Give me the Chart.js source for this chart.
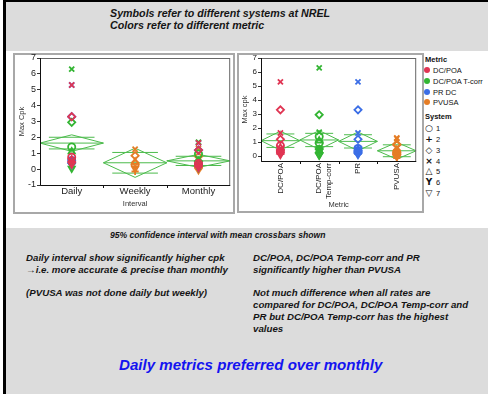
<!DOCTYPE html>
<html>
<head>
<meta charset="utf-8">
<script src="https://cdn.jsdelivr.net/npm/chart.js@4"></script>
<style>
  body { margin: 0; width: 488px; height: 394px; background: #fff; position: relative; overflow: hidden;
         font-family: 'Liberation Sans', Arial, sans-serif; color: #151515; }
  .abs { position: absolute; }
  .gray { background: #dcdcdc; }
  .note { position: absolute; font-weight: bold; font-style: italic; white-space: nowrap; }
  .panel { position: absolute; border: 2px solid #a8a8a8; background: #fff; box-sizing: border-box; }
  canvas { position: absolute; }
  .lg { position: absolute; font-size: 7.5px; line-height: 9px; white-space: nowrap; color: #111; }
  .dot { position: absolute; width: 6px; height: 6px; border-radius: 50%; }
  .sym { position: absolute; font-family: 'DejaVu Sans', sans-serif; font-weight: bold; font-size: 9px; line-height: 9px; width: 10px; text-align: center; color: #111; }
</style>
</head>
<body>
<div class="abs gray" style="left:6px;top:2px;width:482px;height:49px"></div>
<div class="abs gray" style="left:6px;top:228px;width:482px;height:166px"></div>
<div class="abs" style="left:3px;top:0;width:3px;height:394px;background:#000"></div>
<div class="abs" style="left:3px;top:0;width:485px;height:2px;background:#000"></div>

<div class="note" style="left:110px;top:8px;font-size:10.7px;line-height:11.5px">Symbols refer to different systems at NREL<br>Colors refer to different metric</div>

<div class="panel" style="left:13px;top:53px;width:222px;height:161px"></div>
<div class="panel" style="left:237px;top:53px;width:187px;height:160px"></div>
<canvas id="intervalChart" width="226" height="165" style="left:10px;top:50px"></canvas>
<canvas id="metricChart" width="186" height="165" style="left:236px;top:50px"></canvas>

<!-- legend -->
<div class="lg" style="left:425px;top:55px;font-weight:bold">Metric</div>
<div class="dot" style="left:424px;top:67px;background:#e03553"></div>
<div class="lg" style="left:433px;top:66px">DC/POA</div>
<div class="dot" style="left:424px;top:78px;background:#33b533"></div>
<div class="lg" style="left:433px;top:77px">DC/POA T-corr</div>
<div class="dot" style="left:424px;top:89px;background:#3b6ee6"></div>
<div class="lg" style="left:433px;top:88px">PR DC</div>
<div class="dot" style="left:424px;top:99px;background:#e57d25"></div>
<div class="lg" style="left:433px;top:98px">PVUSA</div>
<div class="lg" style="left:425px;top:112px;font-weight:bold">System</div>
<div class="sym" style="left:424px;top:124px">○</div><div class="lg" style="left:436px;top:124px">1</div>
<div class="sym" style="left:424px;top:135px">+</div><div class="lg" style="left:436px;top:135px">2</div>
<div class="sym" style="left:424px;top:146px">◇</div><div class="lg" style="left:436px;top:146px">3</div>
<div class="sym" style="left:424px;top:157px">×</div><div class="lg" style="left:436px;top:157px">4</div>
<div class="sym" style="left:424px;top:167px">△</div><div class="lg" style="left:436px;top:167px">5</div>
<div class="sym" style="left:424px;top:178px">Y</div><div class="lg" style="left:436px;top:178px">6</div>
<div class="sym" style="left:424px;top:189px">▽</div><div class="lg" style="left:436px;top:189px">7</div>

<div class="note" style="left:110px;top:230px;font-size:8.6px">95% confidence interval with mean crossbars shown</div>
<div class="note" style="left:26px;top:252px;font-size:9.7px;line-height:11.8px">Daily interval show significantly higher cpk<br>→i.e. more accurate &amp; precise than monthly<br><br>(PVUSA was not done daily but weekly)</div>
<div class="note" style="left:253px;top:252px;font-size:9.7px;line-height:11.8px">DC/POA, DC/POA Temp-corr and PR<br>significantly higher than PVUSA<br><br>Not much difference when all rates are<br>compared for DC/POA, DC/POA Temp-corr and<br>PR but DC/POA Temp-corr has the highest<br>values</div>
<div class="note" style="left:119px;top:356px;font-size:15.1px;color:#1414f0">Daily metrics preferred over monthly</div>

<script>
// categories and tick labels
const intervals = ['Daily', 'Weekly', 'Monthly'];
const metricLabels = ['DC/POA', ['DC/POA', 'Temp-corr'], 'PR', 'PVUSA'];
const yTicksInterval = [-1, 0, 1, 2, 3, 4, 5, 6, 7];
const yTicksMetric = [0, 1, 2, 3, 4, 5, 6, 7];

// Max Cpk for systems 1..7
const dcpoaDaily   = [0.75, 0.40, 3.30, 5.30, 0.60, 0.50, 0.30];
const dcpoaMonthly = [0.35, 0.15, 1.20, 1.65, 0.30, 0.25, 0.10];
const tcorrDaily   = [1.40, 0.35, 2.95, 6.30, 1.10, 0.45, 0.05];
const tcorrMonthly = [0.95, 0.20, 0.50, 1.70, 0.40, 0.30, 0.10];
const prDaily      = [0.55, 0.35, 3.30, 5.30, 0.50, 0.45, 0.25];
const prMonthly    = [0.30, 0.15, 1.20, 1.65, 0.35, 0.20, 0.10];
const pvusaWeekly  = [0.30, -0.15, 0.85, 1.25, 0.45, 0.20, 0.05];
const pvusaMonthly = [0.15, 0.00, 0.80, 1.30, 0.25, 0.10, -0.05];

// means diamonds (mean, lower / upper 95% CI)
const intervalMean  = [1.64, 0.40, 0.52];
const intervalLower = [1.12, -0.52, 0.11];
const intervalUpper = [2.16, 1.32, 0.93];
const metricMean  = [1.10, 1.15, 1.05, 0.38];
const metricLower = [0.42, 0.48, 0.38, -0.22];
const metricUpper = [1.78, 1.82, 1.72, 0.98];

const RED = '#e03553', GREEN = '#33b533', BLUE = '#3b6ee6', ORANGE = '#e57d25';
const DIAMOND = '#4cbb4c';

// marker per system: 1 circle, 2 plus, 3 diamond, 4 x, 5 triangle, 6 Y, 7 down triangle
const systemStyles = ['circle', 'cross', 'rectRot', 'crossRot', 'triangle', 'Y', 'triangle'];
const systemRotation = [0, 0, 0, 0, 0, 0, 180];

Chart.defaults.font.family = "'Liberation Sans', Arial, sans-serif";
Chart.defaults.color = '#222';

function yImage(color) {
    const c = document.createElement('canvas');
    c.width = 9; c.height = 9;
    const g = c.getContext('2d');
    g.strokeStyle = color;
    g.lineWidth = 1.8;
    g.beginPath();
    g.moveTo(1, 1); g.lineTo(4.5, 4.5); g.lineTo(8, 1);
    g.moveTo(4.5, 4.5); g.lineTo(4.5, 8.5);
    g.stroke();
    return c;
}

function pointSet(values, xIndex, color) {
    const yImg = yImage(color);
    return {
        data: values.map(v => ({ x: xIndex, y: v })),
        pointStyle: systemStyles.map(s => s === 'Y' ? yImg : s),
        pointRotation: systemRotation,
        pointRadius: 3.6,
        pointBorderWidth: 1.8,
        pointBorderColor: color,
        pointBackgroundColor: 'rgba(0,0,0,0)',
        order: 0
    };
}

function lineSet(points) {
    return {
        data: points,
        showLine: true,
        borderColor: DIAMOND,
        borderWidth: 1,
        pointRadius: 0,
        order: 1
    };
}

function diamondSets(means, lower, upper) {
    const sets = [];
    means.forEach((m, i) => {
        sets.push(lineSet([
            { x: i - 0.5, y: m }, { x: i, y: upper[i] }, { x: i + 0.5, y: m },
            { x: i, y: lower[i] }, { x: i - 0.5, y: m }, { x: i + 0.5, y: m }
        ]));
        // overlap marks
        const h = (upper[i] - m) / Math.SQRT2;
        sets.push(lineSet([{ x: i - 0.36, y: m + h }, { x: i + 0.36, y: m + h }]));
        sets.push(lineSet([{ x: i - 0.36, y: m - h }, { x: i + 0.36, y: m - h }]));
    });
    return sets;
}

// frame around plot + category boundary ticks
const framePlugin = {
    id: 'frame',
    afterDraw(chart) {
        const { ctx, chartArea: a } = chart;
        const x = chart.scales.x;
        ctx.save();
        ctx.lineWidth = 1;
        ctx.strokeStyle = '#666';
        ctx.strokeRect(a.left + 0.5, a.top + 0.5, a.right - a.left - 1, a.bottom - a.top);
        ctx.strokeStyle = '#111';
        ctx.beginPath();
        ctx.moveTo(a.left + 0.5, a.top);
        ctx.lineTo(a.left + 0.5, a.bottom + 0.5);
        ctx.lineTo(a.right, a.bottom + 0.5);
        for (let v = x.min + 1; v < x.max; v++) {
            const px = Math.round(x.getPixelForValue(v)) + 0.5;
            ctx.moveTo(px, a.bottom);
            ctx.lineTo(px, a.bottom + 3);
        }
        ctx.stroke();
        ctx.restore();
    }
};

function makeOptions(cfg) {
    return {
        responsive: false,
        animation: false,
        layout: { padding: { top: 8, right: cfg.padRight, left: 0, bottom: 0 } },
        plugins: { legend: { display: false }, tooltip: { enabled: false } },
        scales: {
            x: {
                type: 'linear',
                min: -0.5,
                max: cfg.cats.length - 0.5,
                afterBuildTicks: s => { s.ticks = cfg.cats.map((_, i) => ({ value: i })); },
                afterFit: s => { s.height = cfg.xHeight; },
                ticks: {
                    callback: v => cfg.cats[v],
                    font: { size: cfg.catFont },
                    padding: cfg.catPad,
                    autoSkip: false,
                    minRotation: cfg.rotation,
                    maxRotation: cfg.rotation
                },
                grid: { display: false, drawTicks: false },
                border: { display: false },
                title: { display: true, text: cfg.xTitle, font: { size: 7.5 }, color: '#333', padding: { top: 0, bottom: cfg.xTitlePad } }
            },
            y: {
                min: cfg.yMin,
                max: 7,
                afterBuildTicks: s => { s.ticks = cfg.yTicks.map(v => ({ value: v })); },
                afterFit: s => { s.width = cfg.yWidth; },
                ticks: { font: { size: cfg.yFont }, padding: 1 },
                grid: { drawOnChartArea: false, tickLength: 3, color: '#333' },
                border: { display: false },
                title: { display: true, text: cfg.yTitle, font: { size: 7.5 }, color: '#333', padding: { top: cfg.yTitlePad, bottom: 0 } }
            }
        }
    };
}

new Chart(document.getElementById('intervalChart'), {
    type: 'scatter',
    data: {
        datasets: [
            pointSet(dcpoaDaily, 0, RED),
            pointSet(tcorrDaily, 0, GREEN),
            pointSet(prDaily, 0, BLUE),
            pointSet(pvusaWeekly, 1, ORANGE),
            pointSet(dcpoaMonthly, 2, RED),
            pointSet(tcorrMonthly, 2, GREEN),
            pointSet(prMonthly, 2, BLUE),
            pointSet(pvusaMonthly, 2, ORANGE)
        ].concat(diamondSets(intervalMean, intervalLower, intervalUpper))
    },
    options: makeOptions({
        cats: intervals, yTicks: yTicksInterval, yMin: -1,
        padRight: 4, xHeight: 30, yWidth: 30,
        catFont: 9.5, catPad: 1, rotation: 0, yFont: 9,
        xTitle: 'Interval', xTitlePad: 6.5, yTitle: 'Max Cpk', yTitlePad: 7
    }),
    plugins: [framePlugin]
});

new Chart(document.getElementById('metricChart'), {
    type: 'scatter',
    data: {
        datasets: [
            pointSet(dcpoaDaily, 0, RED),
            pointSet(dcpoaMonthly, 0, RED),
            pointSet(tcorrDaily, 1, GREEN),
            pointSet(tcorrMonthly, 1, GREEN),
            pointSet(prDaily, 2, BLUE),
            pointSet(prMonthly, 2, BLUE),
            pointSet(pvusaWeekly, 3, ORANGE),
            pointSet(pvusaMonthly, 3, ORANGE)
        ].concat(diamondSets(metricMean, metricLower, metricUpper))
    },
    options: makeOptions({
        cats: metricLabels, yTicks: yTicksMetric, yMin: -0.35,
        padRight: 3, xHeight: 54, yWidth: 25,
        catFont: 8, catPad: 2, rotation: 90, yFont: 8,
        xTitle: 'Metric', xTitlePad: 5.5, yTitle: 'Max cpk', yTitlePad: 4.5
    }),
    plugins: [framePlugin]
});
</script>
</body>
</html>
